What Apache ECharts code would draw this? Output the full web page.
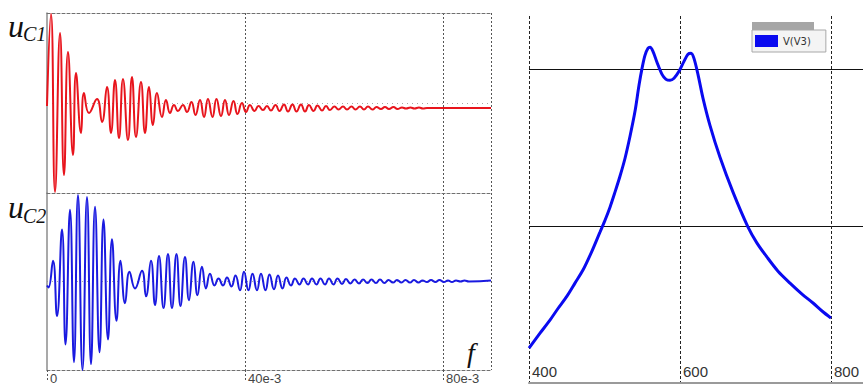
<!DOCTYPE html>
<html>
<head>
<meta charset="utf-8">
<script src="https://cdn.jsdelivr.net/npm/echarts@6/dist/echarts.min.js"></script>
<style>
  html, body { margin: 0; padding: 0; background: #fff; }
  #chart { width: 863px; height: 385px; }
</style>
</head>
<body>
<div id="chart"></div>
<script>
// uC1: extrema, time in ms
const uc1Time = [0, 0.81, 1.62, 2.63, 3.43, 4.24, 5.25, 5.86, 6.87, 7.47, 8.48, 10.10, 11.11, 12.12, 12.93, 13.74, 14.55, 15.35, 16.36, 17.17, 17.98, 18.99, 19.80, 20.61, 21.41, 22.22, 23.23, 24.04, 24.85, 25.66, 26.46, 27.47, 28.28, 29.19, 30.00, 30.91, 31.72, 32.52, 33.43, 34.24, 35.15, 35.96, 36.77, 37.68, 38.48, 39.39, 40.20, 41.01, 41.92, 42.73, 43.64, 44.44, 45.25, 46.16, 46.97, 47.88, 48.69, 49.60, 50.40, 51.31, 52.12, 52.93, 53.84, 54.65, 55.56, 56.36, 57.17, 58.08, 58.89, 59.80, 60.61, 61.52, 62.32, 63.23, 64.04, 64.85, 65.76, 66.57, 67.47, 68.28, 69.09, 70.00, 70.81, 71.72, 72.53, 73.43, 74.24, 75.15, 75.96, 76.77, 77.68, 89.70];
const uc1Value = [-3, 89, -89, 70, -72, 51, -52, 30, -30, 10, -10, 4, -19, 16, -30, 23, -35, 24, -37, 26, -34, 21, -30, 16, -22, 10, -14, 3, -10, -2, -8, -2, -9, 1, -12, 3, -14, 4, -14, 4, -13, 3, -12, 2, -11, 0, -9, -2, -8, -3, -7, -3, -7.5, -2, -8, -1.5, -8.5, -1.5, -8.5, -1.5, -8.5, -2, -8, -2.5, -7.5, -3, -7, -3.5, -6.5, -3.5, -6.5, -3.5, -6.5, -3.5, -6.5, -3.5, -6.5, -4, -6, -4, -6, -4, -6, -4.5, -5.5, -4.5, -5.5, -4.5, -5.5, -5, -5, -5];

// uC2: extrema, time in ms
const uc2Time = [0, 0.30, 1.21, 2.02, 3.03, 3.74, 4.65, 5.45, 6.26, 7.17, 8.08, 8.89, 9.70, 10.61, 11.41, 12.32, 13.13, 14.04, 14.85, 15.76, 16.67, 17.78, 19.19, 20.00, 21.01, 21.82, 22.63, 23.54, 24.44, 25.25, 26.16, 26.97, 27.88, 28.69, 29.60, 30.40, 31.31, 32.12, 32.93, 33.84, 34.65, 35.56, 36.36, 37.27, 38.08, 38.99, 39.80, 40.71, 41.52, 42.42, 43.23, 44.14, 44.95, 45.86, 46.67, 47.58, 48.38, 49.29, 50.10, 51.01, 51.82, 52.73, 53.54, 54.44, 55.25, 56.16, 56.97, 57.88, 58.69, 59.60, 60.40, 61.31, 62.12, 63.03, 63.84, 64.75, 65.56, 66.46, 67.27, 68.18, 68.99, 69.90, 70.71, 71.62, 72.42, 73.33, 74.14, 75.05, 75.86, 76.77, 77.58, 78.48, 79.29, 80.20, 81.01, 81.82, 82.63, 83.54, 84.34, 85.25, 89.70];
const uc2Value = [-4, -6, 21, -35, 53, -64, 73, -82, 88, -90, 86, -84, 76, -72, 63, -59, 43, -40, 21, -22, 10, -7, 11, -15, 21, -24, 26, -27, 28, -27, 28, -25, 25, -19, 20, -14, 15, -7, 8, -4, 3, -4, 4, -5, 6, -9, 10, -9, 8, -9, 8, -9, 7, -8, 6, -7, 4, -4, 3, -3, 3, -3, 3, -3, 3, -3, 3, -3, 3, -2.5, 2.5, -2, 2, -2, 2, -1.5, 2, -1.5, 2, -1.5, 1.5, -1, 1.5, -1, 1.5, -1, 1.5, -1, 1, -0.5, 1.5, -0.5, 1.5, -0.5, 1, -0.5, 1, 0, 1, 0, 1];

// V(V3) frequency response
const freqHz = [400, 414.6, 427.8, 438.4, 450.3, 460.9, 471.5, 483.4, 494.0, 500.7, 507.3, 513.9, 520.5, 527.2, 533.8, 540.4, 545.7, 549.7, 553.6, 557.6, 560.3, 564.2, 569.5, 576.2, 581.5, 586.8, 592.1, 598.7, 605.3, 610.6, 614.6, 618.5, 623.8, 630.5, 639.7, 653.0, 670.2, 690.1, 702.0, 715.2, 729.8, 745.7, 761.6, 776.2, 788.1, 800.0];
const v3Amp = [0.223, 0.318, 0.401, 0.475, 0.554, 0.637, 0.720, 0.841, 0.962, 1.038, 1.121, 1.217, 1.318, 1.433, 1.573, 1.732, 1.898, 2.006, 2.089, 2.134, 2.140, 2.115, 2.045, 1.968, 1.936, 1.930, 1.943, 1.987, 2.051, 2.096, 2.102, 2.070, 1.968, 1.815, 1.643, 1.439, 1.217, 0.994, 0.892, 0.803, 0.713, 0.637, 0.567, 0.510, 0.459, 0.414];

const timeTickLabels = { 0: '0', 40: '40e-3', 80: '80e-3' };

const zip = (xs, ys) => xs.map((x, i) => [x, ys[i]]);

const chart = echarts.init(document.getElementById('chart'), null, { renderer: 'svg' });

const dashed = { color: '#707070', type: [3, 2], width: 1 };
const dotted = { color: '#555', type: [2, 2], width: 1 };
const midDots = { color: '#a8a8a8', type: [1, 4], width: 1 };

function timeAxis(grid, position, extra) {
  return Object.assign({
    type: 'value', gridIndex: grid, position: position,
    min: 0, max: 89.7, interval: 40,
    axisLine: { show: true, onZero: false, lineStyle: dashed },
    axisTick: { show: false },
    axisLabel: { show: false },
    splitLine: { show: false }
  }, extra);
}

function traceAxis(grid) {
  return {
    type: 'value', gridIndex: grid, min: -90, max: 90, interval: 90,
    axisLine: { show: true, onZero: false, lineStyle: { color: '#8c8c8c', width: 1.5 } },
    axisTick: { show: false },
    axisLabel: { show: false },
    splitLine: { show: true, showMinLine: false, showMaxLine: false, lineStyle: midDots }
  };
}

const serif = '"Liberation Serif", "DejaVu Serif", serif';

const option = {
  animation: false,
  backgroundColor: '#fff',
  grid: [
    { left: 47, top: 13, width: 444, height: 180 },
    { left: 47, top: 193, width: 444, height: 180 },
    { left: 529, top: 16, width: 334, height: 367 }
  ],
  xAxis: [
    timeAxis(0, 'top', {
      splitLine: { show: true, showMinLine: false, lineStyle: dotted }
    }),
    timeAxis(1, 'bottom', {
      splitLine: { show: true, showMinLine: false, lineStyle: dotted },
      axisTick: { show: true, length: 12, lineStyle: dotted },
      axisLabel: {
        show: true, showMaxLabel: false, align: 'left', margin: 2,
        padding: [0, 0, 0, 3], fontSize: 13, color: '#444',
        fontFamily: '"Liberation Sans", Arial, sans-serif',
        formatter: (v) => timeTickLabels[v] ?? ''
      }
    }),
    timeAxis(1, 'top', {}),
    {
      type: 'value', gridIndex: 2, min: 400, max: 842.4, interval: 200,
      axisLine: { show: true, onZero: false, lineStyle: { color: '#9a9a9a', width: 2 } },
      axisTick: { show: false },
      axisLabel: {
        inside: true, showMaxLabel: false, align: 'left', margin: 4,
        padding: [0, 0, 0, 3], fontSize: 15, color: '#333',
        fontFamily: '"Liberation Sans", Arial, sans-serif'
      },
      splitLine: { show: true, showMaxLine: false, lineStyle: { color: '#222', type: [3, 2], width: 1 } }
    }
  ],
  yAxis: [
    traceAxis(0),
    traceAxis(1),
    {
      type: 'value', gridIndex: 2, min: 0, max: 2.34, interval: 1,
      axisLine: { show: false }, axisTick: { show: false }, axisLabel: { show: false },
      splitLine: { show: true, showMinLine: false, showMaxLine: false, lineStyle: { color: '#111', width: 1 } }
    }
  ],
  legend: {
    data: ['V(V3)'], left: 752, top: 30, icon: 'rect',
    itemWidth: 23, itemHeight: 12, itemGap: 4, selectedMode: false,
    backgroundColor: '#f4f4f4', borderColor: '#a8a8a8', borderWidth: 1,
    padding: [5, 15, 5, 3],
    textStyle: { fontSize: 10, color: '#333', fontFamily: '"DejaVu Sans", sans-serif' }
  },
  graphic: [
    { type: 'rect', shape: { x: 752, y: 22, width: 62, height: 8 }, style: { fill: '#a6a6a6' } },
    { type: 'text', x: 8, y: 26, style: { text: 'u', font: 'italic 32px ' + serif, fill: '#111', verticalAlign: 'middle' } },
    { type: 'text', x: 23, y: 34, style: { text: 'C1', font: 'italic 20px ' + serif, fill: '#111', verticalAlign: 'middle' } },
    { type: 'text', x: 8, y: 207, style: { text: 'u', font: 'italic 32px ' + serif, fill: '#111', verticalAlign: 'middle' } },
    { type: 'text', x: 23, y: 216, style: { text: 'C2', font: 'italic 20px ' + serif, fill: '#111', verticalAlign: 'middle' } },
    { type: 'text', x: 467, y: 352, style: { text: 'f', font: 'italic 28px ' + serif, fill: '#111', verticalAlign: 'middle' } }
  ],
  series: [
    {
      name: 'uC1', type: 'line', xAxisIndex: 0, yAxisIndex: 0,
      data: zip(uc1Time, uc1Value), showSymbol: false, smooth: 0.5,
      lineStyle: { color: '#e8141c', width: 2 }
    },
    {
      name: 'uC2', type: 'line', xAxisIndex: 1, yAxisIndex: 1,
      data: zip(uc2Time, uc2Value), showSymbol: false, smooth: 0.5,
      lineStyle: { color: '#1a1ae0', width: 2 }
    },
    {
      name: 'V(V3)', type: 'line', xAxisIndex: 3, yAxisIndex: 2,
      data: zip(freqHz, v3Amp), showSymbol: false, smooth: 0.3,
      color: '#0a0af0',
      lineStyle: { color: '#0a0af0', width: 3 }
    }
  ]
};

chart.setOption(option);
window.addEventListener('resize', () => chart.resize());
</script>
</body>
</html>
